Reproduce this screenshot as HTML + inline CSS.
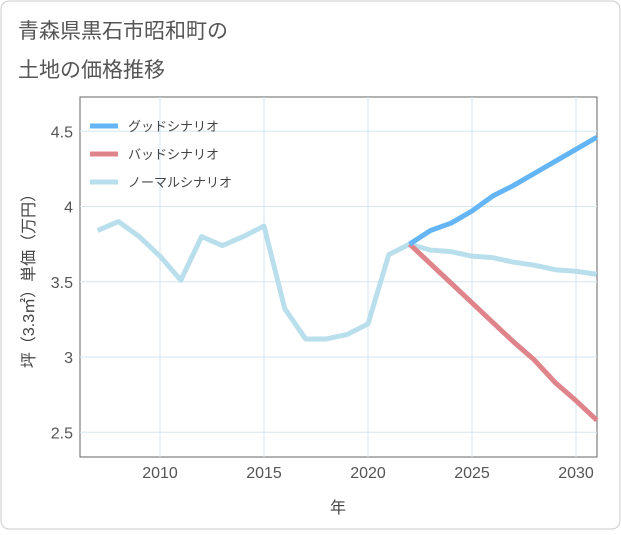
<!DOCTYPE html>
<html><head><meta charset="utf-8"><style>
body{margin:0;background:#fff;}
.wrap{position:relative;width:621px;height:530px;}
text{font-family:"Liberation Sans","Noto Sans CJK JP",sans-serif;}
</style></head><body>
<div class="wrap">
<svg id="chart" width="621" height="530">
<rect x="1" y="1" width="619" height="528" rx="8" fill="#fff" stroke="#cccccc"/>
<text x="18" y="38" font-size="21" fill="#555">青森県黒石市昭和町の</text>
<text x="18" y="77" font-size="21" fill="#555">土地の価格推移</text>
<rect x="80" y="97" width="517" height="360" fill="none" stroke="#666" stroke-width="1"/>
<g id="grid"></g><g id="series"></g><g id="ticks"></g>
<text x="338" y="513" font-size="16" fill="#444" text-anchor="middle">年</text>
<text transform="translate(34,277) rotate(-90)" font-size="16" fill="#444" text-anchor="middle">坪（3.3㎡）単価（万円）</text>
<g>
<line x1="90" y1="126" x2="118" y2="126" stroke="#64b5f6" stroke-width="5"/>
<text x="128" y="131" font-size="13" fill="#444">グッドシナリオ</text>
<line x1="90" y1="154" x2="118" y2="154" stroke="#e0848c" stroke-width="5"/>
<text x="128" y="159" font-size="13" fill="#444">バッドシナリオ</text>
<line x1="90" y1="182" x2="118" y2="182" stroke="#b9dfec" stroke-width="5"/>
<text x="128" y="187" font-size="13" fill="#444">ノーマルシナリオ</text>
</g>
</svg></div>
<script>
const years=[2007,2008,2009,2010,2011,2012,2013,2014,2015,2016,2017,2018,2019,2020,2021,2022,2023,2024,2025,2026,2027,2028,2029,2030,2031];
const normal=[3.84,3.90,3.80,3.67,3.51,3.80,3.74,3.80,3.87,3.32,3.12,3.12,3.15,3.22,3.68,3.75,3.71,3.70,3.67,3.66,3.63,3.61,3.58,3.57,3.55];
const goodYears=[2022,2023,2024,2025,2026,2027,2028,2029,2030,2031];
const good=[3.75,3.84,3.89,3.97,4.07,4.14,4.22,4.30,4.38,4.46];
const bad=[3.75,3.62,3.49,3.36,3.23,3.10,2.98,2.83,2.71,2.58];
const xTicks=[2010,2015,2020,2025,2030];
const yTicks=[2.5,3,3.5,4,4.5];
const NS="http://www.w3.org/2000/svg";
function xs(y){return 160+(y-2010)*20.8;}
function ys(v){return 357-(v-3)*150.5;}
function mk(t,a,p){const e=document.createElementNS(NS,t);for(const k in a)e.setAttribute(k,a[k]);p.appendChild(e);return e;}
const grid=document.getElementById('grid'),ticks=document.getElementById('ticks'),ser=document.getElementById('series');
xTicks.forEach(t=>{
 const l=mk('line',{x1:xs(t),x2:xs(t),y1:97,y2:457,stroke:'#d6e6f0'},grid);
 
 
 const tx=mk('text',{x:xs(t),y:478,'font-size':16,fill:'#555','text-anchor':'middle'},ticks);
 tx.textContent=t;
 
 
});
yTicks.forEach(t=>{
 const l=mk('line',{x1:80,x2:597,y1:ys(t),y2:ys(t),stroke:'#d6e6f0'},grid);
 
 
 const tx=mk('text',{x:73,y:ys(t)+6,'font-size':16,fill:'#555','text-anchor':'end'},ticks);
 tx.textContent=t;
 
 
});
function line(xv,yv,color,name){
 const p=mk('polyline',{points:xv.map((x,i)=>xs(x)+','+ys(yv[i])).join(' '),fill:'none',stroke:color,'stroke-width':5,'stroke-linejoin':'round'},ser);
 
 
}
line(years,normal,'#b9dfec','normal-scenario-line');
line(goodYears,bad,'#e0848c','bad-scenario-line');
line(goodYears,good,'#64b5f6','good-scenario-line');
</script>
</body></html>
